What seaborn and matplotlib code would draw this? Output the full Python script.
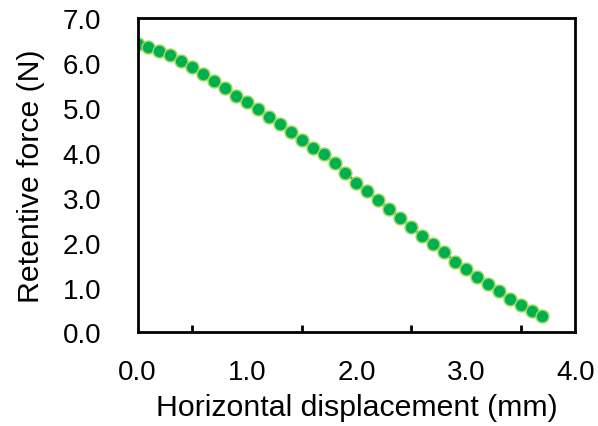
import matplotlib
matplotlib.use("Agg")
import matplotlib.pyplot as plt
import seaborn as sns
import pandas as pd
from matplotlib.ticker import MultipleLocator

displacement_mm = [0.0, 0.1, 0.2, 0.3, 0.4, 0.5, 0.6, 0.7, 0.8, 0.9,
                   1.0, 1.1, 1.2, 1.3, 1.4, 1.5, 1.6, 1.7, 1.8, 1.9,
                   2.0, 2.1, 2.2, 2.3, 2.4, 2.5, 2.6, 2.7, 2.8, 2.9,
                   3.0, 3.1, 3.2, 3.3, 3.4, 3.5, 3.6, 3.7]
retentive_force_N = [6.42, 6.36, 6.27, 6.19, 6.04, 5.91, 5.75, 5.61, 5.45, 5.26,
                     5.13, 4.98, 4.80, 4.64, 4.47, 4.29, 4.11, 3.97, 3.77, 3.56,
                     3.34, 3.15, 2.95, 2.75, 2.56, 2.35, 2.15, 1.98, 1.79, 1.58,
                     1.42, 1.24, 1.07, 0.92, 0.74, 0.61, 0.48, 0.37]
x_ticks = [0.0, 1.0, 2.0, 3.0, 4.0]
y_ticks = [0.0, 1.0, 2.0, 3.0, 4.0, 5.0, 6.0, 7.0]

df = pd.DataFrame({"x": displacement_mm, "y": retentive_force_N})

sns.set_style("white")
plt.rcParams["font.family"] = ["Liberation Sans", "DejaVu Sans"]

fig = plt.figure(figsize=(5.98, 4.27), dpi=100)
ax = fig.add_axes([0.230, 0.219, 0.732, 0.736])

sns.lineplot(data=df, x="x", y="y", ax=ax, color="#0b5d1e", linewidth=1.5,
             marker="o", markersize=9.2, markerfacecolor="#00B050",
             markeredgecolor="#9BD85A", markeredgewidth=1.1)

ax.set_xlim(0, 4)
ax.set_ylim(0, 7)
ax.set_xticks(x_ticks)
ax.set_yticks(y_ticks)
ax.xaxis.set_minor_locator(MultipleLocator(0.5))
ax.set_xticklabels([f"{v:.1f}" for v in x_ticks])
ax.set_yticklabels([f"{v:.1f}" for v in y_ticks])
ax.set_xlabel("Horizontal displacement (mm)", fontsize=21.8, labelpad=6, color="black")
ax.set_ylabel("Retentive force (N)", fontsize=21.8, labelpad=13, color="black")
ax.tick_params(axis="both", which="major", direction="in", length=6, width=2,
               color="black", labelsize=20, labelcolor="black")
ax.tick_params(axis="x", which="minor", direction="in", length=5, width=2,
               color="black", bottom=True)
ax.tick_params(axis="y", pad=26)
ax.tick_params(axis="x", pad=19)
for s in ax.spines.values():
    s.set_visible(True)
    s.set_color("black")
    s.set_linewidth(2)

fig.savefig("out.png", dpi=100)
